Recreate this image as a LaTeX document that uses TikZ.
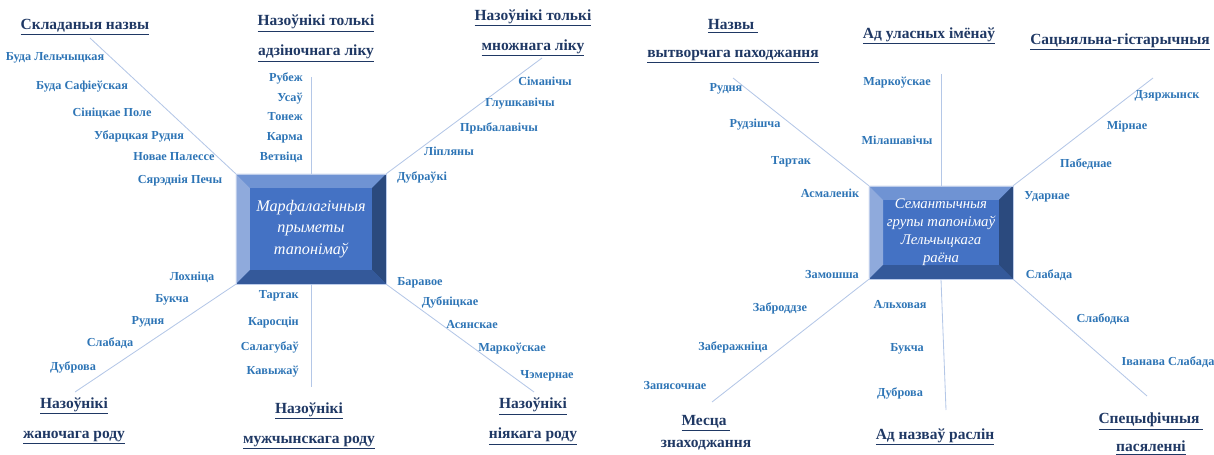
\documentclass[tikz,border=0pt]{standalone}
\usepackage{fontspec}
\setmainfont{Liberation Serif}
\usepackage{tikz}
\usetikzlibrary{calc}
\definecolor{placeblue}{HTML}{2E75B6}
\definecolor{titlenavy}{HTML}{1F3864}
\definecolor{spokeblue}{HTML}{B4C7E7}
\definecolor{boxmid}{HTML}{4472C4}
\definecolor{boxtop}{HTML}{6F93D3}
\definecolor{boxleft}{HTML}{8FAADC}
\definecolor{boxright}{HTML}{2B4A7E}
\definecolor{boxbottom}{HTML}{34599A}
\newcommand{\bev}{0.35cm}
\tikzset{
  place/.style = {font=\bfseries\fontsize{8.7}{10}\selectfont, text=placeblue,
    inner sep=0pt},% назва населенага пункта
  grouptitle/.style = {font=\bfseries\fontsize{11}{21.5}\selectfont, text=titlenavy,
    inner sep=0pt, align=center},% назва групы
  spoke/.style = {draw=spokeblue, line width=0.6pt},
  bevelbox/.style = {rectangle, inner sep=0pt, align=center, text=white,
    font=\itshape\fontsize{11.5}{15.5}\selectfont, draw=boxleft!60, line width=0.4pt,
    path picture={
      \coordinate (bnw) at (path picture bounding box.north west);
      \coordinate (bne) at (path picture bounding box.north east);
      \coordinate (bsw) at (path picture bounding box.south west);
      \coordinate (bse) at (path picture bounding box.south east);
      \fill[boxmid] (bsw) rectangle (bne);
      \fill[boxtop] (bnw) -- (bne) -- ($(bne)+(-\bev,-\bev)$) -- ($(bnw)+(\bev,-\bev)$) -- cycle;
      \fill[boxleft] (bnw) -- (bsw) -- ($(bsw)+(\bev,\bev)$) -- ($(bnw)+(\bev,-\bev)$) -- cycle;
      \fill[boxright] (bne) -- (bse) -- ($(bse)+(-\bev,\bev)$) -- ($(bne)+(-\bev,-\bev)$) -- cycle;
      \fill[boxbottom] (bsw) -- (bse) -- ($(bse)+(-\bev,\bev)$) -- ($(bsw)+(\bev,\bev)$) -- cycle;
    }}
}
\begin{document}
\begin{tikzpicture}[x=0.025cm, y=-0.025cm]
  \useasboundingbox (0,0) rectangle (1214,454);

  % марфалагічныя прыметы
  \node [bevelbox, minimum width=3.75cm, minimum height=2.75cm] (morph) at (311,229)
    {Марфалагічныя\\прыметы\\тапонімаў};

  \node [grouptitle] (skT) at (85,27) {\underline{Складаныя назвы}};
  \node [grouptitle] (adzT) at (316,38.5) {\underline{Назоўнікі толькі}\\\underline{адзіночнага ліку}};
  \node [grouptitle] (mnT) at (533,33) {\underline{Назоўнікі толькі}\\\underline{множнага ліку}};
  \node [grouptitle] (zhT) at (74,421) {\underline{Назоўнікі}\\\underline{жаночага роду}};
  \node [grouptitle] (muT) at (309,426) {\underline{Назоўнікі}\\\underline{мужчынскага роду}};
  \node [grouptitle] (niT) at (533,421.5) {\underline{Назоўнікі}\\\underline{ніякага роду}};

  \coordinate (skE) at (90,38);
  \coordinate (adzE) at (311,77);
  \coordinate (mnE) at (542,58);
  \coordinate (zhE) at (75,392);
  \coordinate (muE) at (311,387);
  \coordinate (niE) at (534,392);
  \draw [spoke] (morph.north west) -- (skE);
  \draw [spoke] (morph.north) -- (adzE);
  \draw [spoke] (morph.north east) -- (mnE);
  \draw [spoke] (morph.south west) -- (zhE);
  \draw [spoke] (morph.south) -- (muE);
  \draw [spoke] (morph.south east) -- (niE);

  \foreach \px/\py/\lbl [count=\k] in {55/58/Буда Лельчыцкая, 82/87/Буда Сафіеўская,
      112/113/Сініцкае Поле, 139/136/Убарцкая Рудня, 174/157/Новае Палессе,
      180/181/Сярэднія Печы}
    \node [place] (sk\k) at (\px,\py) {\lbl};
  \foreach \py/\lbl [count=\k] in {78/Рубеж, 99/Усаў, 117/Тонеж, 138/Карма, 157/Ветвіца}
    \node [place, anchor=east] (adz\k) at (303,\py) {\lbl};
  \foreach \px/\py/\lbl [count=\k] in {545/81/Сіманічы, 520/104/Глушкавічы,
      499/128/Прыбалавічы, 449/151/Ліпляны, 422/177/Дубраўкі}
    \node [place] (mn\k) at (\px,\py) {\lbl};
  \foreach \px/\py/\lbl [count=\k] in {192/277/Лохніца, 172/300/Букча, 148/322/Рудня,
      110/343/Слабада, 73/367/Дуброва}
    \node [place] (zh\k) at (\px,\py) {\lbl};
  \foreach \py/\lbl [count=\k] in {296/Тартак, 323/Каросцін, 347/Салагубаў, 372/Кавыжаў}
    \node [place, anchor=east] (mu\k) at (299,\py) {\lbl};
  \foreach \px/\py/\lbl [count=\k] in {420/283/Баравое, 450/302/Дубніцкае,
      472/325/Асянскае, 512/349/Маркоўскае, 547/376/Чэмернае}
    \node [place] (ni\k) at (\px,\py) {\lbl};

  % семантычныя групы
  \node [bevelbox, minimum width=3.6cm, minimum height=2.33cm,
    font=\itshape\fontsize{10.5}{12.8}\selectfont] (sem) at (941,232.5)
    {Семантычныя\\групы тапонімаў\\Лельчыцкага\\раёна};

  \node [grouptitle, font=\bfseries\fontsize{11}{19.5}\selectfont] (vtT) at (733,41.5)
    {\underline{Назвы~}\\\underline{вытворчага паходжання}};
  \node [grouptitle] (ulT) at (929,36) {\underline{Ад уласных імёнаў}};
  \node [grouptitle] (sgT) at (1120,42) {\underline{Сацыяльна-гістарычныя}};
  \node [grouptitle, font=\bfseries\fontsize{11}{16}\selectfont] (msT) at (706,433)
    {\underline{Месца~}\\знаходжання};
  \node [grouptitle] (rsT) at (935,437) {\underline{Ад назваў раслін}};
  \node [grouptitle, font=\bfseries\fontsize{11}{20}\selectfont] (spT) at (1151,434)
    {\underline{Спецыфічныя~}\\\underline{пасяленні}};

  \coordinate (vtE) at (733,78);
  \coordinate (ulE) at (941,74);
  \coordinate (sgE) at (1153,78);
  \coordinate (msE) at (712,402);
  \coordinate (rsE) at (946,410);
  \coordinate (spE) at (1147,396);
  \draw [spoke] (sem.north west) -- (vtE);
  \draw [spoke] (sem.north) -- (ulE);
  \draw [spoke] (sem.north east) -- (sgE);
  \draw [spoke] (sem.south west) -- (msE);
  \draw [spoke] (sem.south) -- (rsE);
  \draw [spoke] (sem.south east) -- (spE);

  \foreach \px/\py/\lbl [count=\k] in {726/89/Рудня, 755/125/Рудзішча, 791/162/Тартак,
      830/193/Асмаленік}
    \node [place] (vt\k) at (\px,\py) {\lbl};
  \foreach \px/\py/\lbl [count=\k] in {897/83/Маркоўскае, 897/140/Мілашавічы}
    \node [place] (ul\k) at (\px,\py) {\lbl};
  \foreach \px/\py/\lbl [count=\k] in {1167/96/Дзяржынск, 1127/127/Мірнае,
      1086/164/Пабеднае, 1047/197/Ударнае}
    \node [place] (sg\k) at (\px,\py) {\lbl};
  \foreach \px/\py/\lbl [count=\k] in {832/275/Замошша, 780/308/Заброддзе,
      733/347/Заберажніца, 675/386/Запясочнае}
    \node [place] (ms\k) at (\px,\py) {\lbl};
  \foreach \px/\py/\lbl [count=\k] in {900/305/Альховая, 907/349/Букча, 900/393/Дуброва}
    \node [place] (rs\k) at (\px,\py) {\lbl};
  \foreach \px/\py/\lbl [count=\k] in {1049/275/Слабада, 1103/319/Слабодка,
      1168/362/Іванава Слабада}
    \node [place] (sp\k) at (\px,\py) {\lbl};
\end{tikzpicture}
\end{document}
